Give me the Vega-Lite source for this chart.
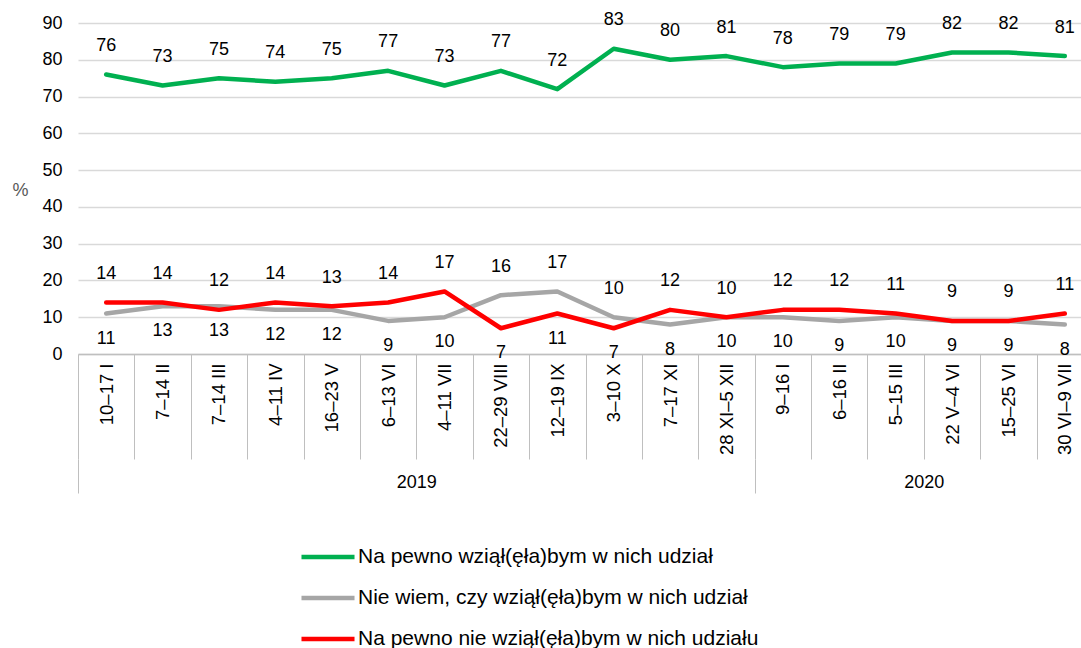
{
  "$schema": "https://vega.github.io/schema/vega-lite/v6.json",
  "width": 1003,
  "height": 331,
  "autosize": {"type": "none"},
  "padding": {"left": 78, "top": 23, "right": 0, "bottom": 294},
  "background": "white",
  "config": {
    "view": {"stroke": null},
    "font": "Liberation Sans",
    "legend": {
      "orient": "none",
      "legendX": 237,
      "legendY": 521,
      "direction": "vertical",
      "padding": 0,
      "symbolType": "M-2.5,0H2.5",
      "symbolSize": 450,
      "symbolStrokeWidth": 4.5,
      "labelFont": "Liberation Sans",
      "labelFontSize": 21,
      "labelColor": "#000000",
      "labelOffset": 17,
      "labelLimit": 700,
      "rowPadding": 18
    }
  },
  "data": {
    "values": [
      {"date": "10–17 I", "series": "Na pewno wziął(ęła)bym w nich udział", "value": 76},
      {"date": "7–14 II", "series": "Na pewno wziął(ęła)bym w nich udział", "value": 73},
      {"date": "7–14 III", "series": "Na pewno wziął(ęła)bym w nich udział", "value": 75},
      {"date": "4–11 IV", "series": "Na pewno wziął(ęła)bym w nich udział", "value": 74},
      {"date": "16–23 V", "series": "Na pewno wziął(ęła)bym w nich udział", "value": 75},
      {"date": "6–13 VI", "series": "Na pewno wziął(ęła)bym w nich udział", "value": 77},
      {"date": "4–11 VII", "series": "Na pewno wziął(ęła)bym w nich udział", "value": 73},
      {"date": "22–29 VIII", "series": "Na pewno wziął(ęła)bym w nich udział", "value": 77},
      {"date": "12–19 IX", "series": "Na pewno wziął(ęła)bym w nich udział", "value": 72},
      {"date": "3–10 X", "series": "Na pewno wziął(ęła)bym w nich udział", "value": 83},
      {"date": "7–17 XI", "series": "Na pewno wziął(ęła)bym w nich udział", "value": 80},
      {"date": "28 XI–5 XII", "series": "Na pewno wziął(ęła)bym w nich udział", "value": 81},
      {"date": "9–16 I", "series": "Na pewno wziął(ęła)bym w nich udział", "value": 78},
      {"date": "6–16 II", "series": "Na pewno wziął(ęła)bym w nich udział", "value": 79},
      {"date": "5–15 III", "series": "Na pewno wziął(ęła)bym w nich udział", "value": 79},
      {"date": "22 V–4 VI", "series": "Na pewno wziął(ęła)bym w nich udział", "value": 82},
      {"date": "15–25 VI", "series": "Na pewno wziął(ęła)bym w nich udział", "value": 82},
      {"date": "30 VI–9 VII", "series": "Na pewno wziął(ęła)bym w nich udział", "value": 81},
      {"date": "10–17 I", "series": "Nie wiem, czy wziął(ęła)bym w nich udział", "value": 11},
      {"date": "7–14 II", "series": "Nie wiem, czy wziął(ęła)bym w nich udział", "value": 13},
      {"date": "7–14 III", "series": "Nie wiem, czy wziął(ęła)bym w nich udział", "value": 13},
      {"date": "4–11 IV", "series": "Nie wiem, czy wziął(ęła)bym w nich udział", "value": 12},
      {"date": "16–23 V", "series": "Nie wiem, czy wziął(ęła)bym w nich udział", "value": 12},
      {"date": "6–13 VI", "series": "Nie wiem, czy wziął(ęła)bym w nich udział", "value": 9},
      {"date": "4–11 VII", "series": "Nie wiem, czy wziął(ęła)bym w nich udział", "value": 10},
      {"date": "22–29 VIII", "series": "Nie wiem, czy wziął(ęła)bym w nich udział", "value": 16},
      {"date": "12–19 IX", "series": "Nie wiem, czy wziął(ęła)bym w nich udział", "value": 17},
      {"date": "3–10 X", "series": "Nie wiem, czy wziął(ęła)bym w nich udział", "value": 10},
      {"date": "7–17 XI", "series": "Nie wiem, czy wziął(ęła)bym w nich udział", "value": 8},
      {"date": "28 XI–5 XII", "series": "Nie wiem, czy wziął(ęła)bym w nich udział", "value": 10},
      {"date": "9–16 I", "series": "Nie wiem, czy wziął(ęła)bym w nich udział", "value": 10},
      {"date": "6–16 II", "series": "Nie wiem, czy wziął(ęła)bym w nich udział", "value": 9},
      {"date": "5–15 III", "series": "Nie wiem, czy wziął(ęła)bym w nich udział", "value": 10},
      {"date": "22 V–4 VI", "series": "Nie wiem, czy wziął(ęła)bym w nich udział", "value": 9},
      {"date": "15–25 VI", "series": "Nie wiem, czy wziął(ęła)bym w nich udział", "value": 9},
      {"date": "30 VI–9 VII", "series": "Nie wiem, czy wziął(ęła)bym w nich udział", "value": 8},
      {"date": "10–17 I", "series": "Na pewno nie wziął(ęła)bym w nich udziału", "value": 14},
      {"date": "7–14 II", "series": "Na pewno nie wziął(ęła)bym w nich udziału", "value": 14},
      {"date": "7–14 III", "series": "Na pewno nie wziął(ęła)bym w nich udziału", "value": 12},
      {"date": "4–11 IV", "series": "Na pewno nie wziął(ęła)bym w nich udziału", "value": 14},
      {"date": "16–23 V", "series": "Na pewno nie wziął(ęła)bym w nich udziału", "value": 13},
      {"date": "6–13 VI", "series": "Na pewno nie wziął(ęła)bym w nich udziału", "value": 14},
      {"date": "4–11 VII", "series": "Na pewno nie wziął(ęła)bym w nich udziału", "value": 17},
      {"date": "22–29 VIII", "series": "Na pewno nie wziął(ęła)bym w nich udziału", "value": 7},
      {"date": "12–19 IX", "series": "Na pewno nie wziął(ęła)bym w nich udziału", "value": 11},
      {"date": "3–10 X", "series": "Na pewno nie wziął(ęła)bym w nich udziału", "value": 7},
      {"date": "7–17 XI", "series": "Na pewno nie wziął(ęła)bym w nich udziału", "value": 12},
      {"date": "28 XI–5 XII", "series": "Na pewno nie wziął(ęła)bym w nich udziału", "value": 10},
      {"date": "9–16 I", "series": "Na pewno nie wziął(ęła)bym w nich udziału", "value": 12},
      {"date": "6–16 II", "series": "Na pewno nie wziął(ęła)bym w nich udziału", "value": 12},
      {"date": "5–15 III", "series": "Na pewno nie wziął(ęła)bym w nich udziału", "value": 11},
      {"date": "22 V–4 VI", "series": "Na pewno nie wziął(ęła)bym w nich udziału", "value": 9},
      {"date": "15–25 VI", "series": "Na pewno nie wziął(ęła)bym w nich udziału", "value": 9},
      {"date": "30 VI–9 VII", "series": "Na pewno nie wziął(ęła)bym w nich udziału", "value": 11}
    ]
  },
  "encoding": {
    "y": {
      "field": "value", "type": "quantitative",
      "scale": {"domain": [0, 90]},
      "axis": {
        "values": [0, 10, 20, 30, 40, 50, 60, 70, 80, 90],
        "title": "%", "titleAngle": 0, "titleX": -58, "titleY": 167,
        "titleAlign": "center", "titleBaseline": "middle", "titleFontSize": 18,
        "titleFontWeight": "normal", "titleColor": "#595959", "titleFont": "Liberation Sans",
        "domain": false, "tickSize": 0, "tickOpacity": 0, "grid": true, "gridColor": "#d9d9d9", "gridWidth": 1.5,
        "labelFontSize": 18, "labelPadding": 16, "labelColor": "#000000", "labelFont": "Liberation Sans"
      }
    }
  },
  "resolve": {"axis": {"x": "independent"}},
  "layer": [
    {
      "mark": {"type": "line", "strokeWidth": 4.5, "strokeCap": "round", "strokeJoin": "round"},
      "encoding": {
        "x": {
          "field": "date", "type": "nominal", "sort": null,
          "scale": {"type": "band", "range": [0, 1015], "paddingInner": 0, "paddingOuter": 0},
          "axis": {
            "title": null, "orient": "bottom", "grid": false,
            "tickBand": "extent", "ticks": true, "tickSize": 105, "tickColor": "#bfbfbf", "tickWidth": 1,
            "domain": true, "domainColor": "#bfbfbf", "domainWidth": 1.5,
            "labelAngle": 270, "labelAlign": "right", "labelBaseline": "middle",
            "labelPadding": -96, "labelFontSize": 18.5, "labelColor": "#000000",
            "labelFont": "Liberation Sans", "labelOverlap": false, "labelFlush": false, "labelBound": false, "labelLimit": 200
          }
        },
        "color": {
          "field": "series", "type": "nominal",
          "scale": {
            "domain": ["Na pewno wziął(ęła)bym w nich udział", "Nie wiem, czy wziął(ęła)bym w nich udział", "Na pewno nie wziął(ęła)bym w nich udziału"],
            "range": ["#00b050", "#a6a6a6", "#ff0000"]
          },
          "legend": {"title": null}
        }
      }
    },
    {
      "transform": [{"filter": "datum.series === 'Na pewno wziął(ęła)bym w nich udział'"}],
      "mark": {"type": "text", "dy": -28.5, "fontSize": 18, "font": "Liberation Sans", "color": "#000000", "baseline": "middle", "align": "center"},
      "encoding": {
        "x": {
          "field": "date", "type": "nominal", "sort": null,
          "scale": {"type": "band", "range": [0, 1015], "paddingInner": 0, "paddingOuter": 0},
          "axis": {
            "title": null, "orient": "bottom", "offset": 105, "grid": false, "domain": false,
            "tickBand": "extent", "ticks": true, "tickSize": 34, "tickColor": "#bfbfbf", "tickWidth": 1,
            "tickOpacity": {"condition": {"test": "datum.extra || datum.index < 0 || datum.value === '28 XI–5 XII'", "value": 1}, "value": 0},
            "labelExpr": "datum.value === '6–13 VI' ? '2019' : (datum.value === '5–15 III' ? '2020' : '')",
            "labelOffset": 28.2, "labelAngle": 0, "labelAlign": "center", "labelBaseline": "middle",
            "labelPadding": -11, "labelFontSize": 18, "labelColor": "#000000", "labelFont": "Liberation Sans",
            "labelOverlap": false, "labelFlush": false, "labelBound": false
          }
        },
        "text": {"field": "value", "type": "quantitative"}
      }
    },
    {
      "transform": [
        {"filter": "datum.series !== 'Na pewno wziął(ęła)bym w nich udział'"},
        {"calculate": "datum.series === 'Nie wiem, czy wziął(ęła)bym w nich udział' ? datum.value : null", "as": "gv"},
        {"calculate": "datum.series === 'Na pewno nie wziął(ęła)bym w nich udziału' ? datum.value : null", "as": "rv"},
        {"joinaggregate": [{"op": "max", "field": "gv", "as": "G"}, {"op": "max", "field": "rv", "as": "R"}], "groupby": ["date"]},
        {"calculate": "datum.G > datum.R + 1 ? 'Nie wiem, czy wziął(ęła)bym w nich udział' : 'Na pewno nie wziął(ęła)bym w nich udziału'", "as": "topSeries"},
        {"filter": "datum.series === datum.topSeries"}
      ],
      "mark": {"type": "text", "dy": -28.5, "fontSize": 18, "font": "Liberation Sans", "color": "#000000", "baseline": "middle", "align": "center"},
      "encoding": {
        "x": {"field": "date", "type": "nominal", "sort": null, "scale": {"type": "band", "range": [0, 1015], "paddingInner": 0, "paddingOuter": 0}, "axis": null},
        "text": {"field": "value", "type": "quantitative"}
      }
    },
    {
      "transform": [
        {"filter": "datum.series !== 'Na pewno wziął(ęła)bym w nich udział'"},
        {"calculate": "datum.series === 'Nie wiem, czy wziął(ęła)bym w nich udział' ? datum.value : null", "as": "gv"},
        {"calculate": "datum.series === 'Na pewno nie wziął(ęła)bym w nich udziału' ? datum.value : null", "as": "rv"},
        {"joinaggregate": [{"op": "max", "field": "gv", "as": "G"}, {"op": "max", "field": "rv", "as": "R"}], "groupby": ["date"]},
        {"calculate": "datum.G > datum.R + 1 ? 'Nie wiem, czy wziął(ęła)bym w nich udział' : 'Na pewno nie wziął(ęła)bym w nich udziału'", "as": "topSeries"},
        {"filter": "datum.series !== datum.topSeries"}
      ],
      "mark": {"type": "text", "dy": 25, "fontSize": 18, "font": "Liberation Sans", "color": "#000000", "baseline": "middle", "align": "center"},
      "encoding": {
        "x": {"field": "date", "type": "nominal", "sort": null, "scale": {"type": "band", "range": [0, 1015], "paddingInner": 0, "paddingOuter": 0}, "axis": null},
        "text": {"field": "value", "type": "quantitative"}
      }
    }
  ]
}
